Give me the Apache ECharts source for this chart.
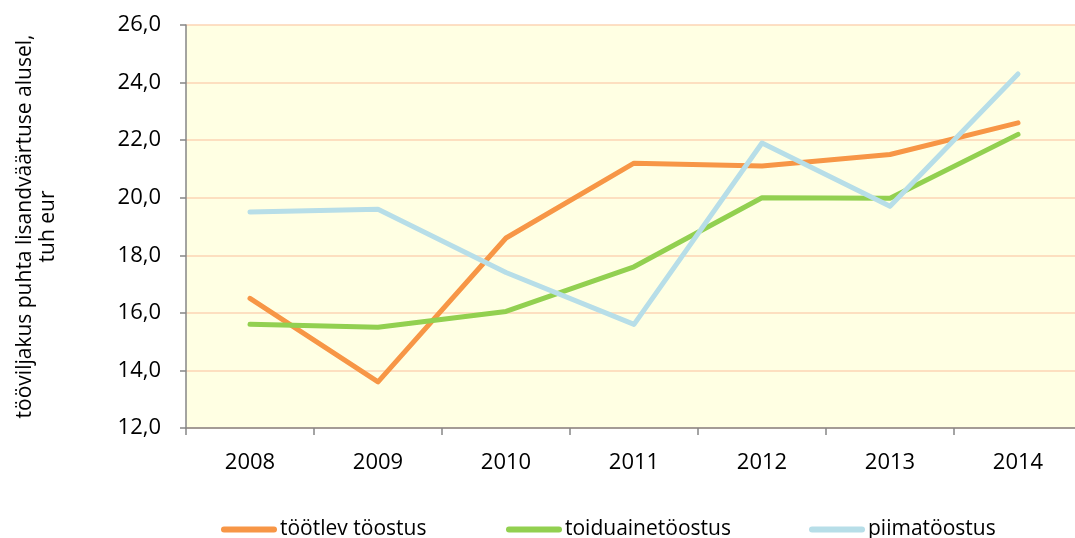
<!DOCTYPE html>
<html><head><meta charset="utf-8">
<script src="https://cdn.jsdelivr.net/npm/echarts@6/dist/echarts.min.js"></script>
<style>html,body{margin:0;padding:0;background:#fff}#c{width:1075px;height:538px}</style>
</head><body><div id="c"></div>
<script>
const categories = ['2008','2009','2010','2011','2012','2013','2014'];
const tootlev = [16.5, 13.6, 18.6, 21.2, 21.1, 21.5, 22.6];
const toiduaine = [15.6, 15.5, 16.05, 17.6, 20.0, 19.98, 22.2];
const piima = [19.5, 19.6, 17.4, 15.6, 21.9, 19.7, 24.3];
const seriesNames = ['töötlev töostus', 'toiduainetöostus', 'piimatöostus'];
const yTicks = [12, 14, 16, 18, 20, 22, 24, 26];
const yTitle = 'tööviljakus puhta lisandväärtuse alusel,\ntuh eur';

const colors = ['#F79646', '#92D050', '#B7DEE8'];
const font = '"Open Sans", sans-serif';
const chart = echarts.init(document.getElementById('c'), null, {renderer: 'canvas'});
const legendIcon = 'path://M3,0 L53,0 A3,3 0 0 1 53,6 L3,6 A3,3 0 0 1 3,0 Z';
function legendAt(name, left) {
  return {
    data: [name], left: left, top: 519, icon: legendIcon, padding: 0,
    itemWidth: 56, itemHeight: 6, itemGap: 0,
    textStyle: {fontFamily: font, fontSize: 21, color: '#000', padding: [0, 0, 0, -2]},
    selectedMode: false
  };
}
chart.setOption({
  animation: false,
  grid: {left: 186, top: 25, width: 896, height: 403, show: true, backgroundColor: '#FFFFE3', borderWidth: 0,
    containLabel: false, outerBoundsMode: 'none'},
  legend: [legendAt(seriesNames[0], 221), legendAt(seriesNames[1], 506), legendAt(seriesNames[2], 809)],
  xAxis: {
    type: 'category', data: categories, boundaryGap: true,
    axisLine: {lineStyle: {color: '#868686', width: 1.5}},
    axisTick: {show: true, length: 7, lineStyle: {color: '#868686', width: 1.5}},
    axisLabel: {fontFamily: font, fontSize: 22, color: '#000', margin: 24}
  },
  yAxis: {
    type: 'value', min: yTicks[0], max: yTicks[yTicks.length - 1], interval: yTicks[1] - yTicks[0],
    axisLine: {show: true, lineStyle: {color: '#868686', width: 1.5}},
    axisTick: {show: true, length: 6, lineStyle: {color: '#868686', width: 1.5}},
    axisLabel: {fontFamily: font, fontSize: 22, color: '#000', margin: 25,
      formatter: v => v.toFixed(1).replace('.', ',')},
    splitLine: {lineStyle: {color: '#FCD5B5', width: 1.5}},
    name: yTitle, nameLocation: 'middle', nameRotate: 90, nameGap: 126,
    nameTextStyle: {fontFamily: font, fontSize: 21, color: '#000', lineHeight: 23, align: 'center'}
  },
  series: [
    {name: seriesNames[0], type: 'line', data: tootlev, symbol: 'none', lineStyle: {width: 5, color: colors[0], cap: 'round', join: 'round'}, itemStyle: {color: colors[0]}},
    {name: seriesNames[1], type: 'line', data: toiduaine, symbol: 'none', lineStyle: {width: 5, color: colors[1], cap: 'round', join: 'round'}, itemStyle: {color: colors[1]}},
    {name: seriesNames[2], type: 'line', data: piima, symbol: 'none', lineStyle: {width: 5, color: colors[2], cap: 'round', join: 'round'}, itemStyle: {color: colors[2]}}
  ]
});
</script></body></html>
